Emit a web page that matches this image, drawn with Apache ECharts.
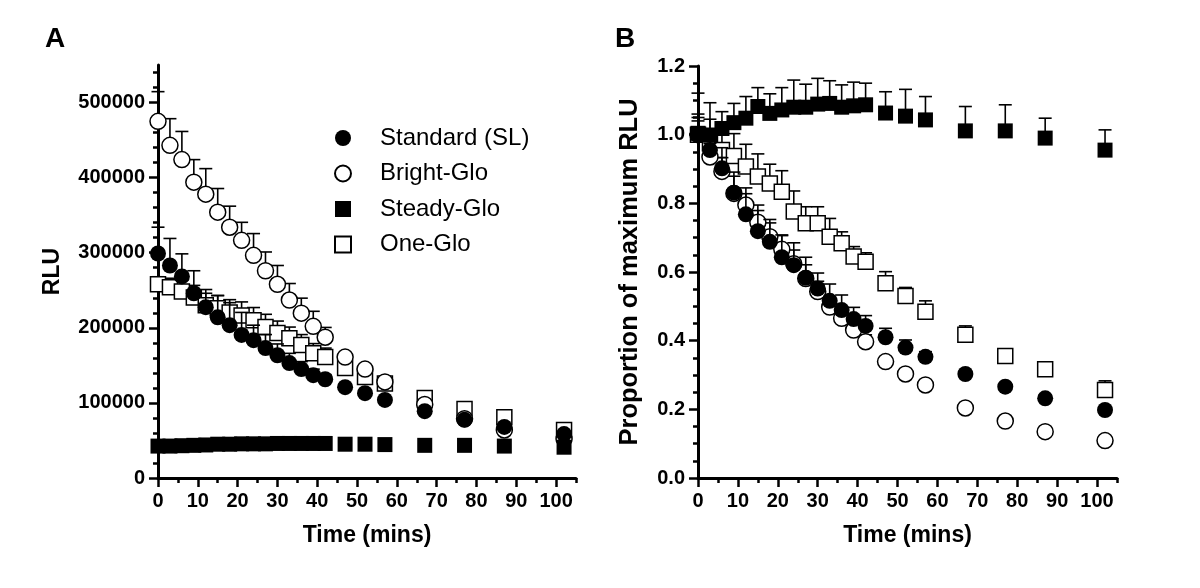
<!DOCTYPE html>
<html>
<head>
<meta charset="utf-8">
<script src="https://cdn.jsdelivr.net/npm/echarts@6/dist/echarts.min.js"></script>
<style>
html,body{margin:0;padding:0;background:#fff;}
#chart{width:1200px;height:588px;}
</style>
</head>
<body>
<div id="chart"></div>
<script>
// ---- data ----
const timeMins = [0,3,6,9,12,15,18,21,24,27,30,33,36,39,42,47,52,57,67,77,87,102];
const seriesNames = ['Standard (SL)','Bright-Glo','Steady-Glo','One-Glo'];

// Panel A (RLU)
const stdA    = [299000,283000,268500,246000,227500,214000,203500,190500,183500,173000,163500,153000,145000,137000,131500,121000,113000,104000,89000,77500,68000,58500];
const brightA = [475000,443000,424000,394000,378000,354000,334000,316500,296500,276000,258000,237000,219500,202000,187500,161000,145000,128000,98000,79000,64000,52000];
const steadyA = [42500,42500,43000,43500,44000,45000,45000,45500,45500,45500,46000,46000,46000,46000,46000,45000,45000,44500,43500,43500,42500,41000];
const oneA    = [258000,254000,248500,240500,230000,226000,220500,216500,210000,201000,193000,186000,177000,166000,161000,146500,134500,126000,106500,92000,81000,64000];
const stdErrA    = [35000,36000,30000,30000,23500,29000,30000,30000,20000,18000,15000,13000,10000,8000,6000,4000,3000,2500,2000,2000,2000,2000];
const brightErrA = [39500,35500,37500,30000,34000,31500,28000,24000,29000,25000,25000,22000,20000,20000,13000,4000,4000,3000,3000,2000,2000,2000];
const steadyErrA = [2000,2000,2000,2000,2000,2000,2000,2000,2000,2000,2000,2000,2000,2000,2000,2000,2000,2000,2000,2000,2000,2000];
const oneErrA    = [10000,12000,15000,16000,16000,17000,17000,18000,17000,17000,16000,15000,14000,13000,12000,6000,5000,4000,4000,3000,3000,3000];

// Panel B (proportion of maximum RLU)
const stdB    = [1.0,0.955,0.902,0.831,0.768,0.719,0.688,0.643,0.620,0.583,0.552,0.516,0.489,0.463,0.443,0.410,0.380,0.353,0.303,0.266,0.232,0.198];
const brightB = [1.0,0.935,0.893,0.829,0.795,0.745,0.703,0.666,0.624,0.581,0.543,0.498,0.465,0.431,0.397,0.339,0.303,0.271,0.204,0.166,0.135,0.109];
const steadyB = [1.004,0.999,1.018,1.035,1.048,1.082,1.062,1.072,1.080,1.080,1.089,1.091,1.080,1.084,1.087,1.063,1.054,1.043,1.011,1.011,0.990,0.955];
const oneB    = [1.0,0.975,0.955,0.938,0.907,0.878,0.858,0.834,0.776,0.742,0.742,0.703,0.684,0.645,0.630,0.567,0.530,0.484,0.417,0.355,0.317,0.256];
const stdErrB    = [0.05,0.05,0.06,0.06,0.06,0.06,0.065,0.065,0.065,0.06,0.045,0.049,0.044,0.034,0.03,0.026,0.022,0.015,0.01,0.01,0.01,0.01];
const brightErrB = [0.04,0.04,0.04,0.05,0.05,0.05,0.04,0.04,0.04,0.04,0.03,0.03,0.03,0.02,0.02,0.01,0.01,0.01,0.01,0.01,0.01,0.01];
const steadyErrB = [0.117,0.094,0.049,0.056,0.063,0.055,0.057,0.065,0.079,0.067,0.075,0.066,0.065,0.069,0.063,0.062,0.078,0.068,0.071,0.076,0.058,0.059];
const oneErrB    = [0.06,0.07,0.07,0.065,0.065,0.066,0.056,0.061,0.06,0.048,0.048,0.053,0.033,0.029,0.026,0.034,0.025,0.032,0.026,0.01,0.01,0.027];

// tick values
const xMajorTicks = [0,10,20,30,40,50,60,70,80,90,100];
const xMinorTicks = [5,15,25,35,45,55,65,75,85,95,105];
const yMajorTicksA = [0,100000,200000,300000,400000,500000];
const yMinorTicksA = [20000,40000,60000,80000,120000,140000,160000,180000,220000,240000,260000,280000,320000,340000,360000,380000,420000,440000,460000,480000,520000,540000];
const yMajorTicksB = [0,0.2,0.4,0.6,0.8,1.0,1.2];
const yMinorTicksB = [0.05,0.1,0.15,0.25,0.3,0.35,0.45,0.5,0.55,0.65,0.7,0.75,0.85,0.9,0.95,1.05,1.1,1.15];

// ---- chart ----
const FONT = '"Liberation Sans", Arial, Helvetica, sans-serif';
const chart = echarts.init(document.getElementById('chart'), null, {renderer:'canvas'});

function pairs(vals){ return timeMins.map((t,i)=>[t, vals[i]]); }
function triples(vals, errs){ return timeMins.map((t,i)=>[t, vals[i], errs[i]]); }

function errSeries(gi, vals, errs, z){
  return {
    type:'custom', name:'err', xAxisIndex: gi*2, yAxisIndex: gi*2, z: z, clip:false,
    silent:true, legendHoverLink:false,
    data: triples(vals, errs),
    renderItem: function(params, api){
      const x = api.value(0), y = api.value(1), e = api.value(2);
      const p0 = api.coord([x, y]);
      const p1 = api.coord([x, y + e]);
      const st = {stroke:'#000', lineWidth:1.6};
      return {type:'group', children:[
        {type:'line', shape:{x1:p0[0], y1:p0[1], x2:p1[0], y2:p1[1]}, style:st},
        {type:'line', shape:{x1:p1[0]-6.5, y1:p1[1], x2:p1[0]+6.5, y2:p1[1]}, style:st}
      ]};
    }
  };
}
const styles = {
  'Standard (SL)': {symbol:'circle', symbolSize:16, itemStyle:{color:'#000', borderColor:'#000', borderWidth:0, opacity:1}},
  'Bright-Glo':    {symbol:'circle', symbolSize:16, itemStyle:{color:'#fff', borderColor:'#000', borderWidth:1.5, opacity:1}},
  'Steady-Glo':    {symbol:'rect',   symbolSize:15, itemStyle:{color:'#000', borderColor:'#000', borderWidth:0, opacity:1}},
  'One-Glo':       {symbol:'rect',   symbolSize:15, itemStyle:{color:'#fff', borderColor:'#000', borderWidth:1.5, opacity:1}}
};
function scat(gi, name, vals, z){
  const s = styles[name];
  return {type:'scatter', name:name, xAxisIndex: gi*2, yAxisIndex: gi*2, z:z, clip:false,
    symbol:s.symbol, symbolSize:s.symbolSize, itemStyle:s.itemStyle, data: pairs(vals), silent:true};
}

const axisLineStyle = {show:true, lineStyle:{color:'#000', width:3}};
const tickLabelStyle = {color:'#000', fontSize:20, fontWeight:'bold', fontFamily:FONT};
const nameStyle = {color:'#000', fontSize:23, fontWeight:'bold', fontFamily:FONT};

function xAxes(gi){
  return [
    {type:'value', gridIndex:gi, min:0, max:105, position:'bottom',
     axisLine:axisLineStyle,
     axisTick:{show:true, customValues:xMajorTicks, length:9, lineStyle:{color:'#000', width:2.5}},
     axisLabel:Object.assign({customValues:xMajorTicks, margin:13}, tickLabelStyle),
     splitLine:{show:false},
     name:'Time (mins)', nameLocation:'middle', nameGap:46, nameTextStyle:nameStyle},
    {type:'value', gridIndex:gi, min:0, max:105, position:'bottom',
     axisLine:{show:false},
     axisTick:{show:true, customValues:xMinorTicks, length:5, lineStyle:{color:'#000', width:2.5}},
     axisLabel:{show:false}, splitLine:{show:false}}
  ];
}
function yAxes(gi, max, major, minor, fmt, name, gap, nameSize){
  return [
    {type:'value', gridIndex:gi, min:0, max:max, position:'left',
     axisLine:axisLineStyle,
     axisTick:{show:true, customValues:major, length:9, lineStyle:{color:'#000', width:2.5}},
     axisLabel:Object.assign({customValues:major, margin:13, formatter:fmt}, tickLabelStyle),
     splitLine:{show:false},
     name:name, nameLocation:'middle', nameGap:gap,
     nameTextStyle:Object.assign({}, nameStyle, {fontSize:nameSize})},
    {type:'value', gridIndex:gi, min:0, max:max, position:'left',
     axisLine:{show:false},
     axisTick:{show:true, customValues:minor, length:5, lineStyle:{color:'#000', width:2.5}},
     axisLabel:{show:false}, splitLine:{show:false}}
  ];
}

const option = {
  backgroundColor:'#fff',
  animation:false,
  title:[
    {text:'A', left:40, top:20, textStyle:{fontSize:28, fontWeight:'bold', color:'#000', fontFamily:FONT}},
    {text:'B', left:610, top:20, textStyle:{fontSize:28, fontWeight:'bold', color:'#000', fontFamily:FONT}}
  ],
  legend:{
    orient:'vertical', left:329, top:121,
    data: seriesNames,
    itemWidth:16, itemHeight:16, itemGap:11.5,
    selectedMode:false,
    textStyle:{color:'#000', fontSize:24, fontFamily:FONT, lineHeight:24, padding:[0,0,0,24]}
  },
  grid:[
    {left:158, top:65, width:418, height:413},
    {left:698, top:66, width:419, height:412}
  ],
  xAxis: xAxes(0).concat(xAxes(1)),
  yAxis: yAxes(0, 550000, yMajorTicksA, yMinorTicksA, v=>String(v), 'RLU', 94, 23)
         .concat(yAxes(1, 1.2, yMajorTicksB, yMinorTicksB, v=>v.toFixed(1), 'Proportion of maximum RLU', 55, 25.5)),
  series:[
    errSeries(0, oneA, oneErrA, 2), scat(0,'One-Glo', oneA, 3),
    errSeries(0, brightA, brightErrA, 4), scat(0,'Bright-Glo', brightA, 5),
    errSeries(0, stdA, stdErrA, 6), scat(0,'Standard (SL)', stdA, 7),
    errSeries(0, steadyA, steadyErrA, 8), scat(0,'Steady-Glo', steadyA, 9),
    errSeries(1, oneB, oneErrB, 2), scat(1,'One-Glo', oneB, 3),
    errSeries(1, brightB, brightErrB, 4), scat(1,'Bright-Glo', brightB, 5),
    errSeries(1, stdB, stdErrB, 6), scat(1,'Standard (SL)', stdB, 7),
    errSeries(1, steadyB, steadyErrB, 8), scat(1,'Steady-Glo', steadyB, 9)
  ]
};
chart.setOption(option);
</script>
</body>
</html>
